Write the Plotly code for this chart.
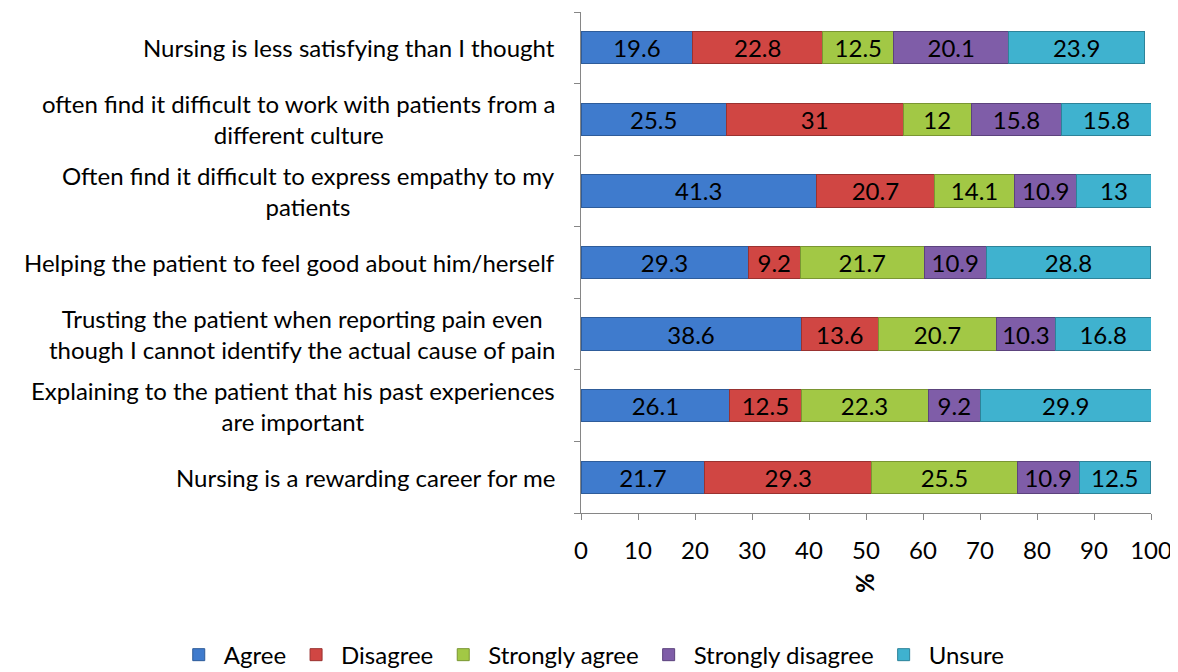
import plotly.graph_objects as go

# Dados (de baixo para cima)
categorias = [
    "Nursing is a rewarding career for me",
    "Explaining to the patient that his past experiences<br>are important",
    "Trusting the patient when reporting pain even<br>though I cannot identify the actual cause of pain",
    "Helping the patient to feel good about him/herself",
    "Often find it difficult to express empathy to my<br>patients",
    "often find it difficult to work with patients from a<br>different culture",
    "Nursing is less satisfying than I thought",
]
agree = [21.7, 26.1, 38.6, 29.3, 41.3, 25.5, 19.6]
disagree = [29.3, 12.5, 13.6, 9.2, 20.7, 31, 22.8]
strongly_agree = [25.5, 22.3, 20.7, 21.7, 14.1, 12, 12.5]
strongly_disagree = [10.9, 9.2, 10.3, 10.9, 10.9, 15.8, 20.1]
unsure = [12.5, 29.9, 16.8, 28.8, 13, 15.8, 23.9]

series = [
    ("Agree", agree, "#3F7BCD", "#2E5C9A"),
    ("Disagree", disagree, "#D04643", "#9A3230"),
    ("Strongly agree", strongly_agree, "#A2C845", "#7A9632"),
    ("Strongly disagree", strongly_disagree, "#7F5DA8", "#5C437D"),
    ("Unsure", unsure, "#3FB2CF", "#2D8399"),
]

fonte = "Lato"
tam = 24

fig = go.Figure()
for nome, valores, cor, borda in series:
    fig.add_trace(go.Bar(
        y=categorias, x=valores, name=nome, orientation="h",
        marker=dict(color=cor, line=dict(color=borda, width=1)),
        text=[str(v) for v in valores], textposition="inside",
        insidetextanchor="middle", textangle=0,
        textfont=dict(family=fonte, size=tam, color="black"),
    ))

# Rotulos do eixo y centralizados (como no original)
for cat in categorias:
    fig.add_annotation(
        x=0, xref="paper", xanchor="right", xshift=-24,
        y=cat, yref="y", text=cat, showarrow=False, align="center",
        font=dict(family=fonte, size=tam, color="black"),
    )

# titulo do eixo x, rotacionado
fig.add_annotation(
    x=0.5, xref="paper", y=-0.14, yref="paper", yanchor="middle",
    text="<b>%</b>", showarrow=False, textangle=90,
    font=dict(family=fonte, size=tam, color="black"),
)

fig.update_layout(
    width=1178, height=672,
    margin=dict(l=573, r=35, t=4, b=166),
    barmode="stack", bargap=0.55,
    plot_bgcolor="white", paper_bgcolor="white",
    font=dict(family=fonte, size=tam, color="black"),
    showlegend=True,
    legend=dict(orientation="h", x=-0.7145, xanchor="left",
                y=-0.281, yanchor="middle", itemwidth=40,
                font=dict(size=tam), traceorder="normal"),
    uniformtext=dict(minsize=tam, mode="show"),
)
fig.update_xaxes(range=[0, 100], dtick=10, showgrid=False, zeroline=False,
                 showline=True, linecolor="#868686", linewidth=1,
                 ticks="outside", ticklen=6, tickcolor="#868686",
                 ticklabelstandoff=10, tickfont=dict(size=tam),
                 automargin=False)
fig.update_yaxes(showgrid=False, showline=True, linecolor="#868686", linewidth=1,
                 ticks="outside", ticklen=6, tickcolor="#868686",
                 tickson="boundaries", showticklabels=False,
                 range=[-0.5, 6.5])

fig.write_html("out.html")
